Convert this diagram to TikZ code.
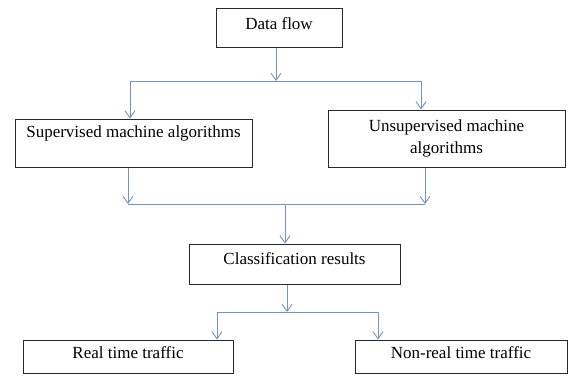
\documentclass[tikz,border=0pt]{standalone}
\usepackage{fontspec}
\setmainfont{Liberation Serif}
\usetikzlibrary{arrows.meta,calc}
\definecolor{conn}{RGB}{115,148,190}
\definecolor{boxline}{RGB}{40,40,40}
\begin{document}
\begin{tikzpicture}[x=1pt,y=-1pt,
  box/.style={draw=boxline,line width=1pt,inner sep=0pt,align=center,
    font=\fontsize{17}{22}\selectfont},
  link/.style={draw=conn,line width=1pt},
  arr/.style={link,-{Straight Barb[length=7pt,width=10pt,line width=0.9pt]}}]
\useasboundingbox (0,0) rectangle (569,376);
% boxes
\node[box,minimum width=126pt,minimum height=39pt,text height=11pt,text depth=8pt] (df) at (279,27.5) {Data flow};
\node[box,minimum width=237pt,minimum height=48pt] (sup) at (133.5,143) {Supervised machine algorithms\\\mbox{}};
\node[box,minimum width=237pt,minimum height=57pt] (uns) at (446.5,138.5) {Unsupervised machine\\algorithms};
\node[box,minimum width=211pt,minimum height=40pt,text height=10pt,text depth=10pt] (cls) at (294.5,264) {Classification results};
\node[box,minimum width=210pt,minimum height=33pt,text height=11pt,text depth=7pt] (rt) at (128,356.5) {Real time traffic};
\node[box,minimum width=212pt,minimum height=33pt,text height=11pt,text depth=7pt] (nrt) at (461,356.5) {Non-real time traffic};
% junction coordinates
\coordinate (j1) at (276,81);
\coordinate (j1l) at (130,81);
\coordinate (j1r) at (421,81);
\coordinate (j2l) at (128,204);
\coordinate (j2r) at (425,204);
\coordinate (j2) at (285,204);
\coordinate (j3) at (287,312);
\coordinate (j3l) at (217,312);
\coordinate (j3r) at (378,312);
% connectors
\draw[arr] (df.south -| j1) -- (j1);
\draw[link] (j1l) -- (j1r);
\draw[arr] (j1l) -- (sup.north -| j1l);
\draw[arr] (j1r) -- (uns.north -| j1r);
\draw[arr] (sup.south -| j2l) -- (j2l);
\draw[arr] (uns.south -| j2r) -- (j2r);
\draw[link] (j2l) -- (j2r);
\draw[arr] (j2) -- (cls.north -| j2);
\draw[arr] (cls.south -| j3) -- (j3);
\draw[link] (j3l) -- (j3r);
\draw[arr] (j3l) -- (rt.north -| j3l);
\draw[arr] (j3r) -- (nrt.north -| j3r);
\end{tikzpicture}
\end{document}
